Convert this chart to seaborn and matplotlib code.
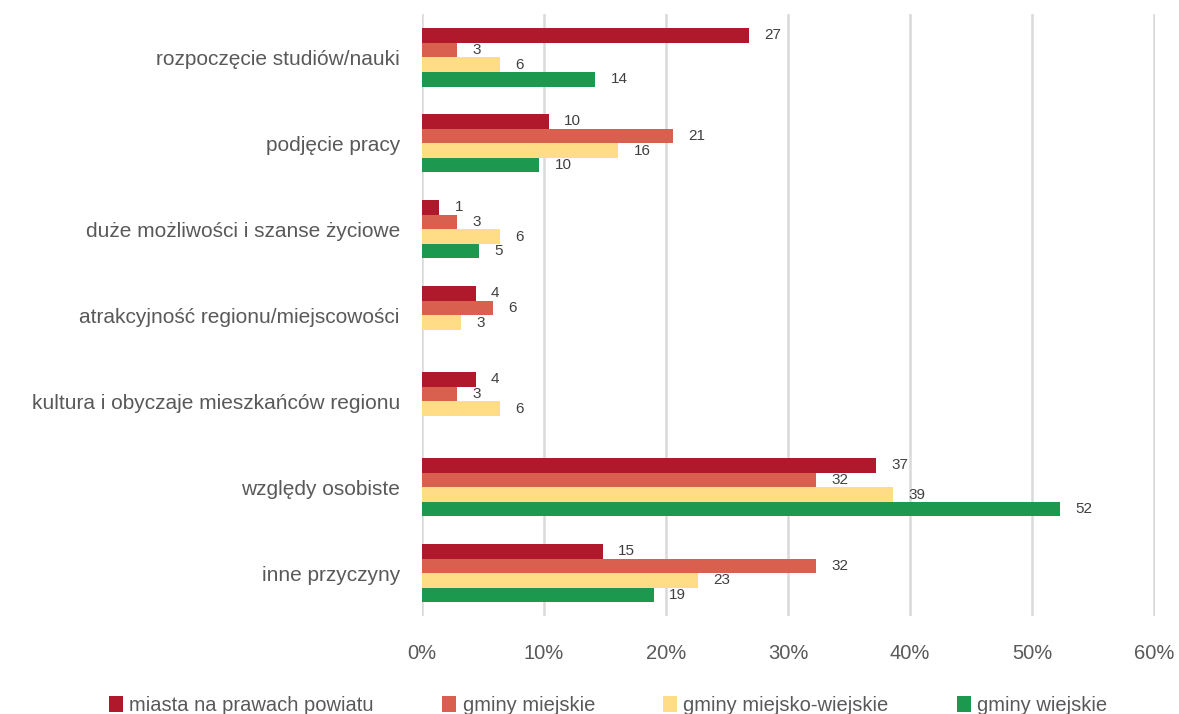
import numpy as np
import pandas as pd
import matplotlib
matplotlib.use("Agg")
import matplotlib.pyplot as plt
import seaborn as sns

categories = [
    "rozpoczęcie studiów/nauki",
    "podjęcie pracy",
    "duże możliwości i szanse życiowe",
    "atrakcyjność regionu/miejscowości",
    "kultura i obyczaje mieszkańców regionu",
    "względy osobiste",
    "inne przyczyny",
]
series = ["miasta na prawach powiatu", "gminy miejskie", "gminy miejsko-wiejskie", "gminy wiejskie"]
miasta = [26.8, 10.4, 1.4, 4.4, 4.4, 37.2, 14.8]
miejskie = [2.9, 20.6, 2.9, 5.8, 2.9, 32.3, 32.3]
miejsko_wiejskie = [6.4, 16.1, 6.4, 3.2, 6.4, 38.6, 22.6]
wiejskie = [14.2, 9.6, 4.7, np.nan, np.nan, 52.3, 19.0]
colors = ["#B0182B", "#D9604E", "#FFDD87", "#1C994E"]
xticks = [0, 10, 20, 30, 40, 50, 60]

rows = []
for s, vals in zip(series, [miasta, miejskie, miejsko_wiejskie, wiejskie]):
    for c, v in zip(categories, vals):
        rows.append({"cat": c, "series": s, "val": v})
df = pd.DataFrame(rows)

sns.set_theme(style="white")
plt.rcParams["font.family"] = ["Liberation Sans", "DejaVu Sans"]
gray = "#595959"

fig = plt.figure(figsize=(11.79, 7.14), dpi=100)
ax = fig.add_axes([0.358, 0.137, 0.6217, 0.843])

sns.barplot(data=df, y="cat", x="val", hue="series", order=categories,
            hue_order=series, palette=colors, orient="h", width=0.68,
            ax=ax, saturation=1, errorbar=None, linewidth=0)

for cont in ax.containers:
    ax.bar_label(cont, fmt="%.0f", padding=11, fontsize=11, color="#404040")

ax.set_xlim(0, 60.1)
ax.set_xticks(xticks)
ax.set_xticklabels([f"{t}%" for t in xticks])
ax.xaxis.grid(True, color="#D9D9D9", linewidth=1.8)
ax.set_axisbelow(True)
for sp in ax.spines.values():
    sp.set_visible(False)
ax.set_xlabel("")
ax.set_ylabel("")
ax.tick_params(axis="x", length=0, pad=20, labelsize=14.5, labelcolor=gray)
ax.tick_params(axis="y", length=0, pad=16, labelsize=15, labelcolor=gray)

handles, labels = ax.get_legend_handles_labels()
ax.legend_.remove()
fig.legend(handles, labels, loc="center", bbox_to_anchor=(0.516, 0.012), ncol=4,
           frameon=False, fontsize=14.5, labelcolor=gray, handlelength=0.7,
           handleheight=0.9, handletextpad=0.3, columnspacing=3.4)

fig.savefig("out.png", dpi=100)
